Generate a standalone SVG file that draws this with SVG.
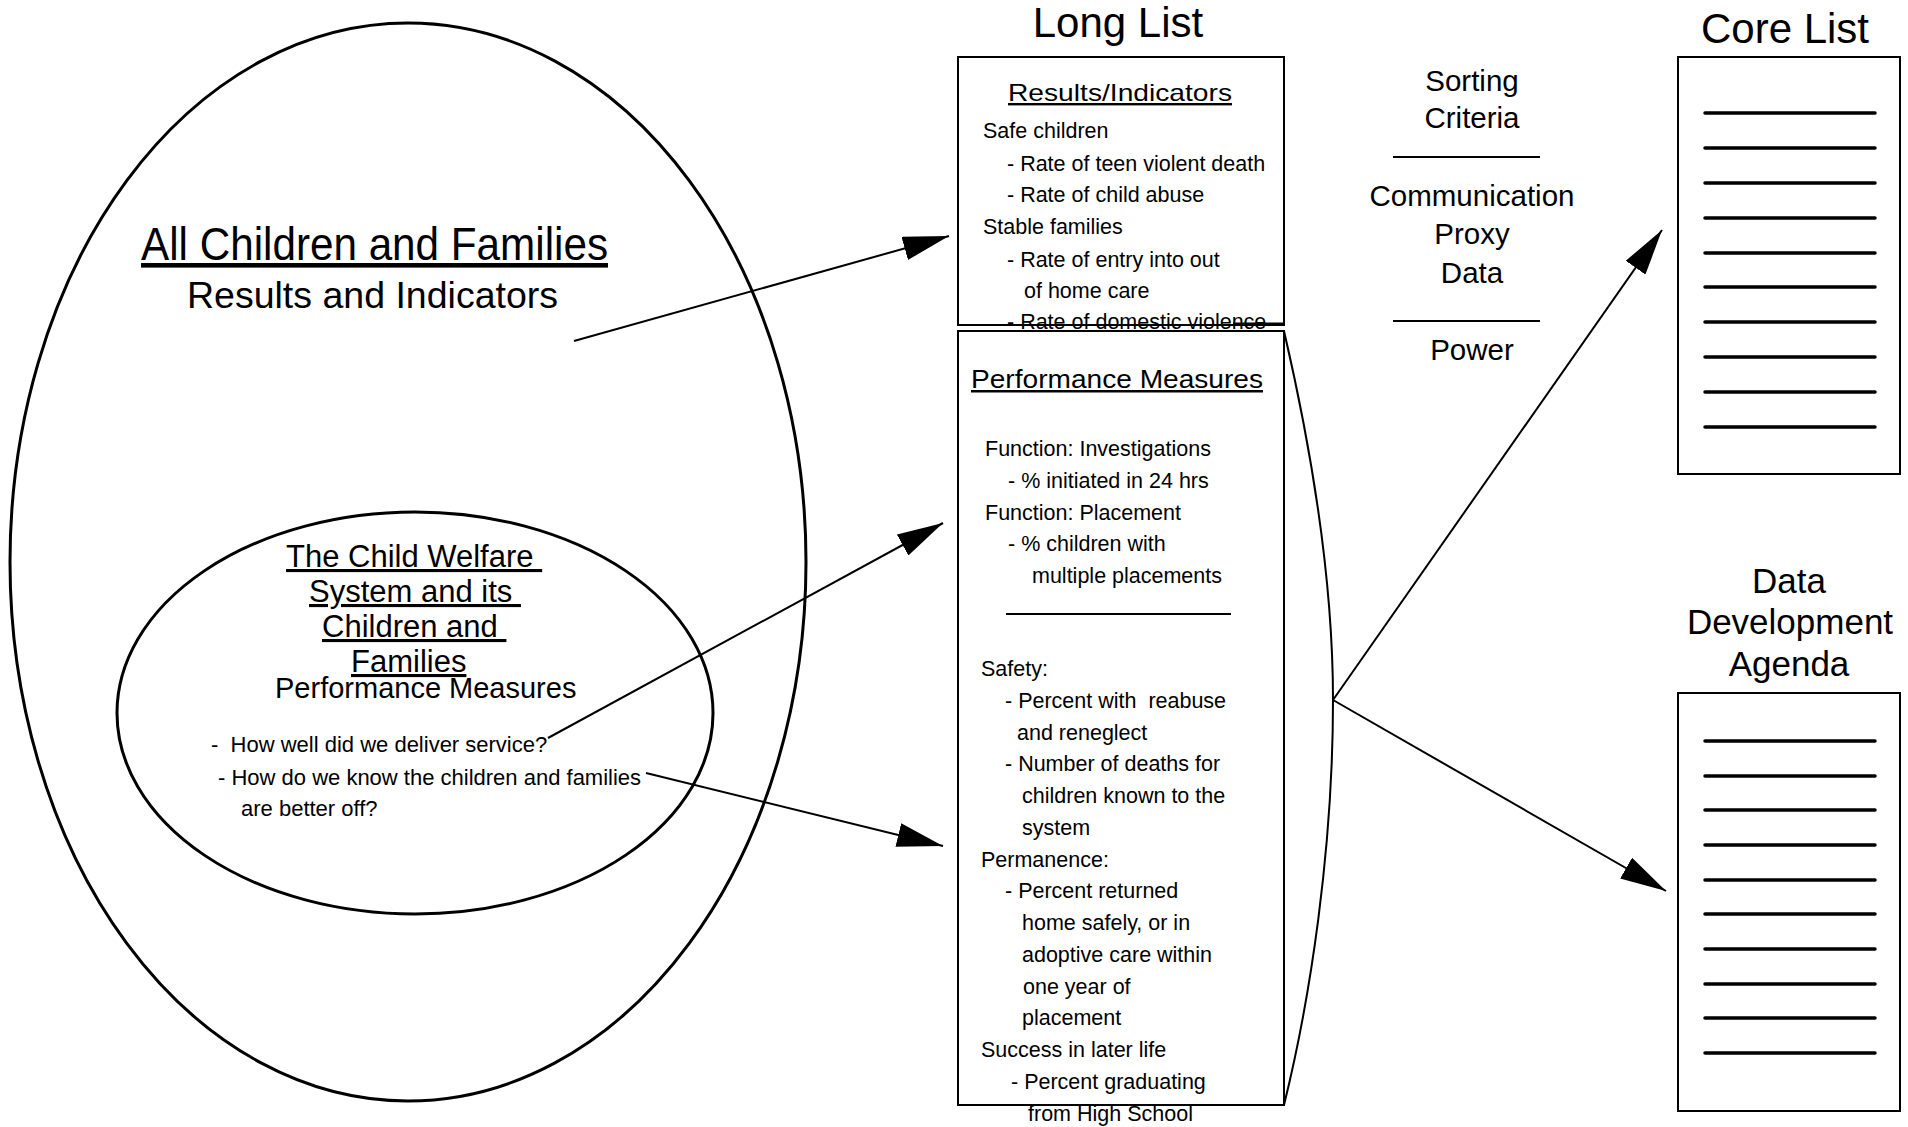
<svg xmlns="http://www.w3.org/2000/svg" width="1908" height="1127" viewBox="0 0 1908 1127">
<style>
text{font-family:"Liberation Sans",Arial,sans-serif;fill:#000}
.s{font-size:21.5px}
.q{font-size:22px}
.h{font-size:42px;text-anchor:middle}
.c{font-size:29.5px;text-anchor:middle}
.d{font-size:35px;text-anchor:middle}
.u{text-decoration:underline}
.box{fill:none;stroke:#000;stroke-width:2}
.ell{fill:none;stroke:#000;stroke-width:3}
.rule{stroke:#000;stroke-width:2}
.item{stroke:#000;stroke-width:3.5;stroke-linecap:round}
.con{fill:none;stroke:#000;stroke-width:2}
</style>
<defs>
<marker id="ah" markerUnits="userSpaceOnUse" markerWidth="46" markerHeight="24" refX="46" refY="12" orient="auto">
<path d="M0,0 L46,12 L0,24 z" fill="#000"/>
</marker>
</defs>
<rect width="1908" height="1127" fill="#fff"/>

<g id="all-children">
<ellipse class="ell" cx="408" cy="562" rx="398" ry="539"/>
<text class="u" x="141" y="260" font-size="46" textLength="467" lengthAdjust="spacingAndGlyphs">All Children and Families</text>
<text x="187" y="308" font-size="36" textLength="371" lengthAdjust="spacingAndGlyphs">Results and Indicators</text>
</g>

<g id="child-welfare">
<ellipse class="ell" cx="415" cy="713" rx="298" ry="201"/>
<text class="u" xml:space="preserve" x="286" y="567" font-size="31">The Child Welfare </text>
<text class="u" xml:space="preserve" x="309" y="602" font-size="31">System and its </text>
<text class="u" xml:space="preserve" x="322" y="637" font-size="31">Children and </text>
<text class="u" x="351" y="672" font-size="31">Families</text>
<text x="275" y="698" font-size="29">Performance Measures</text>
<text class="q" xml:space="preserve" x="211" y="752">-  How well did we deliver service?</text>
<text class="q" x="218" y="785">- How do we know the children and families</text>
<text class="q" x="241" y="816">are better off?</text>
</g>

<g id="long-list-title">
<text class="h" x="1118" y="37">Long List</text>
</g>

<g id="results-indicators">
<text class="u" x="1008" y="101" font-size="24" textLength="224" lengthAdjust="spacingAndGlyphs">Results/Indicators</text>
<text class="s" x="983" y="138">Safe children</text>
<text class="s" x="1007" y="170.5">- Rate of teen violent death</text>
<text class="s" x="1007" y="202">- Rate of child abuse</text>
<text class="s" x="983" y="234">Stable families</text>
<text class="s" x="1007" y="266.5">- Rate of entry into out</text>
<text class="s" x="1024" y="298">of home care</text>
<text class="s" x="1007" y="329">- Rate of domestic violence</text>
<rect class="box" x="958" y="57" width="326" height="268"/>
<line x1="1233" y1="324" x2="1284" y2="324" stroke="#000" stroke-width="3"/>
</g>

<g id="performance-measures">
<rect class="box" x="958" y="331" width="326" height="774"/>
<text class="u" x="971" y="388" font-size="25" textLength="292" lengthAdjust="spacingAndGlyphs">Performance Measures</text>
<text class="s" x="985" y="456">Function: Investigations</text>
<text class="s" x="1008" y="488">- % initiated in 24 hrs</text>
<text class="s" x="985" y="519.5">Function: Placement</text>
<text class="s" x="1008" y="551">- % children with</text>
<text class="s" x="1032" y="583">multiple placements</text>
<line class="rule" x1="1006" y1="614" x2="1231" y2="614"/>
<text class="s" x="981" y="676">Safety:</text>
<text class="s" xml:space="preserve" x="1005" y="708">- Percent with  reabuse</text>
<text class="s" x="1017" y="739.5">and reneglect</text>
<text class="s" x="1005" y="771">- Number of deaths for</text>
<text class="s" x="1022" y="803">children known to the</text>
<text class="s" x="1022" y="835">system</text>
<text class="s" x="981" y="866.5">Permanence:</text>
<text class="s" x="1005" y="898">- Percent returned</text>
<text class="s" x="1022" y="930">home safely, or in</text>
<text class="s" x="1022" y="962">adoptive care within</text>
<text class="s" x="1023" y="993.5">one year of</text>
<text class="s" x="1022" y="1025">placement</text>
<text class="s" x="981" y="1057">Success in later life</text>
<text class="s" x="1011" y="1089">- Percent graduating</text>
<text class="s" x="1028" y="1121">from High School</text>
</g>

<g id="sorting-criteria">
<text class="c" x="1472" y="91">Sorting</text>
<text class="c" x="1472" y="128">Criteria</text>
<line class="rule" x1="1393" y1="157" x2="1540" y2="157"/>
<text class="c" x="1472" y="206">Communication</text>
<text class="c" x="1472" y="244">Proxy</text>
<text class="c" x="1472" y="283">Data</text>
<line class="rule" x1="1393" y1="321" x2="1540" y2="321"/>
<text class="c" x="1472" y="360">Power</text>
</g>

<g id="core-list">
<text class="h" x="1785" y="43">Core List</text>
<rect class="box" x="1678" y="57" width="222" height="417"/>
<line class="item" x1="1705" y1="113" x2="1875" y2="113"/>
<line class="item" x1="1705" y1="148" x2="1875" y2="148"/>
<line class="item" x1="1705" y1="183" x2="1875" y2="183"/>
<line class="item" x1="1705" y1="218" x2="1875" y2="218"/>
<line class="item" x1="1705" y1="253" x2="1875" y2="253"/>
<line class="item" x1="1705" y1="287" x2="1875" y2="287"/>
<line class="item" x1="1705" y1="322" x2="1875" y2="322"/>
<line class="item" x1="1705" y1="357" x2="1875" y2="357"/>
<line class="item" x1="1705" y1="392" x2="1875" y2="392"/>
<line class="item" x1="1705" y1="427" x2="1875" y2="427"/>
</g>

<g id="data-development-agenda">
<text class="d" x="1789" y="593">Data</text>
<text class="d" x="1790" y="634">Development</text>
<text class="d" x="1789" y="676">Agenda</text>
<rect class="box" x="1678" y="693" width="222" height="418"/>
<line class="item" x1="1705" y1="741" x2="1875" y2="741"/>
<line class="item" x1="1705" y1="776" x2="1875" y2="776"/>
<line class="item" x1="1705" y1="810" x2="1875" y2="810"/>
<line class="item" x1="1705" y1="845" x2="1875" y2="845"/>
<line class="item" x1="1705" y1="880" x2="1875" y2="880"/>
<line class="item" x1="1705" y1="914" x2="1875" y2="914"/>
<line class="item" x1="1705" y1="949" x2="1875" y2="949"/>
<line class="item" x1="1705" y1="984" x2="1875" y2="984"/>
<line class="item" x1="1705" y1="1018" x2="1875" y2="1018"/>
<line class="item" x1="1705" y1="1053" x2="1875" y2="1053"/>
</g>

<g id="connectors">
<path class="con" d="M1284,331 C1300,400 1333,550 1333,700 C1333,850 1310,1000 1284,1105"/>
<line class="con" x1="574" y1="341" x2="949" y2="236" marker-end="url(#ah)"/>
<line class="con" x1="548" y1="738" x2="943" y2="523" marker-end="url(#ah)"/>
<line class="con" x1="646" y1="773" x2="943" y2="846" marker-end="url(#ah)"/>
<line class="con" x1="1333" y1="700" x2="1662" y2="230" marker-end="url(#ah)"/>
<line class="con" x1="1333" y1="700" x2="1666" y2="891" marker-end="url(#ah)"/>
</g>
</svg>
